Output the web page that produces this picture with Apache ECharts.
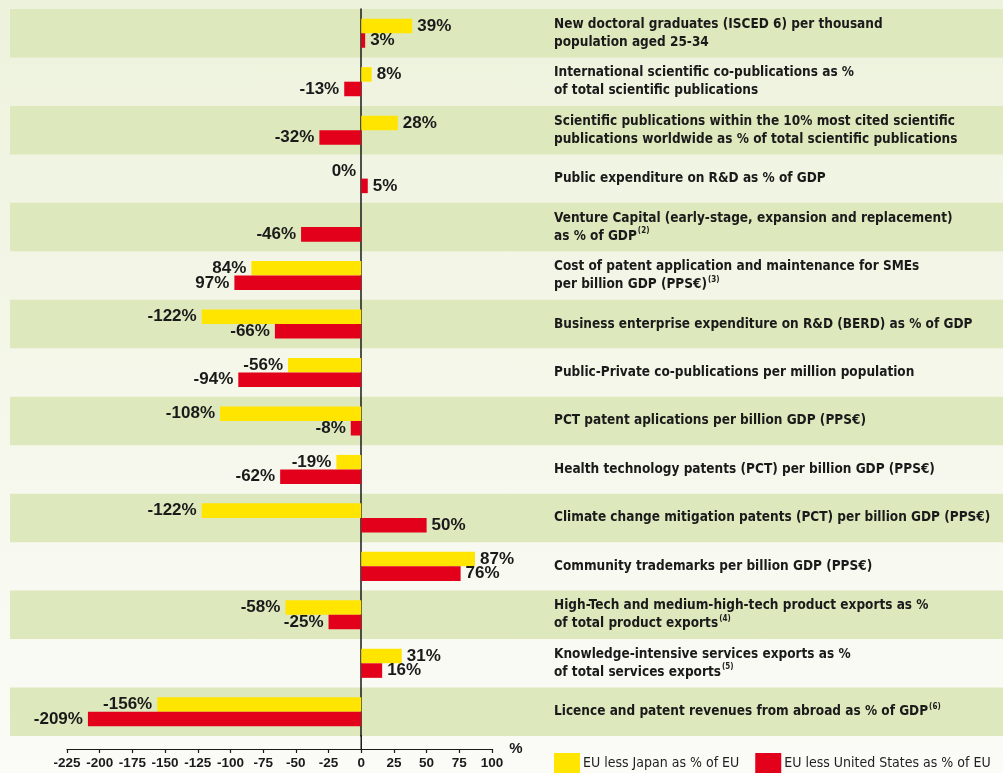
<!DOCTYPE html>
<html>
<head>
<meta charset="utf-8">
<script src="https://cdn.jsdelivr.net/npm/echarts@6/dist/echarts.min.js"></script>
<style>
  html, body { margin: 0; padding: 0; }
  #chart { width: 1003px; height: 773px; background: linear-gradient(to bottom, #edf2dc 0%, #f5f7ea 50%, #fbfbf7 100%); }
</style>
</head>
<body>
<div id="chart"></div>
<script>
const categories = [
  'New doctoral graduates (ISCED 6) per thousand\npopulation aged 25-34',
  'International scientific co-publications as %\nof total scientific publications',
  'Scientific publications within the 10% most cited scientific\npublications worldwide as % of total scientific publications',
  'Public expenditure on R&D as % of GDP',
  'Venture Capital (early-stage, expansion and replacement)\nas % of GDP',
  'Cost of patent application and maintenance for SMEs\nper billion GDP (PPS€)',
  'Business enterprise expenditure on R&D (BERD) as % of GDP',
  'Public-Private co-publications per million population',
  'PCT patent aplications per billion GDP (PPS€)',
  'Health technology patents (PCT) per billion GDP (PPS€)',
  'Climate change mitigation patents (PCT) per billion GDP (PPS€)',
  'Community trademarks per billion GDP (PPS€)',
  'High-Tech and medium-high-tech product exports as %\nof total product exports',
  'Knowledge-intensive services exports as %\nof total services exports',
  'Licence and patent revenues from abroad as % of GDP'
];
const footnotes = ['', '', '', '', '(2)', '(3)', '', '', '', '', '', '', '(4)', '(5)', '(6)'];

const seriesNames = ['EU less Japan as % of EU', 'EU less United States as % of EU'];
const japanValues = [39, 8, 28, 0, null, -84, -122, -56, -108, -19, -122, 87, -58, 31, -156];
const japanLabels = ['39%', '8%', '28%', '0%', '', '84%', '-122%', '-56%', '-108%', '-19%', '-122%', '87%', '-58%', '31%', '-156%'];
const usValues = [3, -13, -32, 5, -46, -97, -66, -94, -8, -62, 50, 76, -25, 16, -209];
const usLabels = ['3%', '-13%', '-32%', '5%', '-46%', '97%', '-66%', '-94%', '-8%', '-62%', '50%', '76%', '-25%', '16%', '-209%'];

const xMin = -225, xMax = 100, xStep = 25;

const condensed = "'Liberation Sans Narrow', 'DejaVu Sans Condensed', sans-serif";
const plain = "'Liberation Sans', Arial, sans-serif";

const chart = echarts.init(document.getElementById('chart'), null, { renderer: 'canvas' });

const valueLabelStyle = {
  show: true,
  fontFamily: plain,
  fontWeight: 'bold',
  fontSize: 17,
  color: '#1a1a1a',
  distance: 5
};

function mkData(values, labels) {
  return values.map((v, i) => ({
    value: v,
    label: { position: (v !== null && v > 0) ? 'right' : 'left', formatter: () => labels[i] }
  }));
}

const option = {
  animation: false,
  backgroundColor: 'transparent',
  grid: [
    { left: 10, right: 0, top: 9, height: 727, outerBoundsMode: 'none', containLabel: false },
    { left: 67, width: 425, top: 9, height: 727, outerBoundsMode: 'none', containLabel: false }
  ],
  legend: {
    left: 554, top: 753, padding: 0,
    width: 600,
    itemWidth: 26, itemHeight: 21,
    itemGap: 16,
    icon: 'rect',
    data: seriesNames,
    textStyle: {
      fontFamily: condensed,
      fontSize: 14, color: '#222', padding: [0, 0, 0, -2]
    }
  },
  xAxis: [
    { gridIndex: 0, type: 'value', show: false, min: 0, max: 1 },
    {
      gridIndex: 1, type: 'value', min: xMin, max: xMax, interval: xStep,
      offset: 13,
      name: '%', nameLocation: 'end', nameGap: 9,
      nameTextStyle: { fontFamily: plain, fontWeight: 'bold', fontSize: 15, color: '#1a1a1a', padding: [0, 0, 6, 0] },
      axisLine: { show: true, onZero: false, lineStyle: { color: '#1a1a1a', width: 1.2 } },
      axisTick: { show: true, length: 4, inside: false, lineStyle: { color: '#1a1a1a', width: 1.2 } },
      axisLabel: { fontFamily: plain, fontWeight: 'bold', fontSize: 13.5, color: '#1a1a1a', margin: 7 },
      splitLine: { show: false }
    }
  ],
  yAxis: [
    {
      gridIndex: 0, type: 'category', inverse: true, data: categories,
      axisLine: { show: false }, axisTick: { show: false }, axisLabel: { show: false },
      splitLine: { show: false },
      splitArea: { show: true, areaStyle: { color: ['#dee8bd', 'rgba(0,0,0,0)'] } }
    },
    {
      gridIndex: 1, type: 'category', inverse: true, data: categories,
      axisLine: { show: true, onZero: true, lineStyle: { color: '#1a1a1a', width: 1.5 } },
      axisTick: { show: false }, axisLabel: { show: false }, splitLine: { show: false }
    },
    {
      gridIndex: 1, type: 'category', inverse: true, data: categories, position: 'right',
      axisLine: { show: false, onZero: false }, axisTick: { show: false }, splitLine: { show: false },
      axisLabel: {
        show: true, margin: 62, align: 'left',
        fontFamily: condensed,
        fontWeight: 'bold', fontSize: 13.5, lineHeight: 18, color: '#1a1a1a',
        formatter: (val, idx) => footnotes[idx] ? val + '{sup|' + footnotes[idx] + '}' : val,
        rich: {
          sup: {
            fontFamily: condensed,
            fontWeight: 'bold', fontSize: 8, verticalAlign: 'top', lineHeight: 12, color: '#1a1a1a', padding: [0, 0, 0, 1]
          }
        }
      }
    }
  ],
  series: [
    {
      name: seriesNames[0], type: 'bar', xAxisIndex: 1, yAxisIndex: 1,
      barGap: '0%', barCategoryGap: '40%',
      itemStyle: { color: '#ffe500' },
      label: valueLabelStyle,
      data: mkData(japanValues, japanLabels)
    },
    {
      name: seriesNames[1], type: 'bar', xAxisIndex: 1, yAxisIndex: 1,
      barGap: '0%', barCategoryGap: '40%',
      itemStyle: { color: '#e2001a' },
      label: valueLabelStyle,
      data: mkData(usValues, usLabels)
    }
  ]
};

chart.setOption(option);

// extend the zero line down to the shifted x axis, using the library's scales
const x0 = chart.convertToPixel({ xAxisIndex: 1 }, 0);
const yFirst = chart.convertToPixel({ yAxisIndex: 1 }, categories[0]);
const yLast = chart.convertToPixel({ yAxisIndex: 1 }, categories[categories.length - 1]);
const band = (yLast - yFirst) / (categories.length - 1);
const gridBottom = yLast + band / 2;
chart.setOption({
  graphic: [{
    type: 'line', silent: true,
    shape: { x1: x0, y1: gridBottom - 1, x2: x0, y2: gridBottom + 13 },
    style: { stroke: '#1a1a1a', lineWidth: 1.5 }
  }]
});
</script>
</body>
</html>
